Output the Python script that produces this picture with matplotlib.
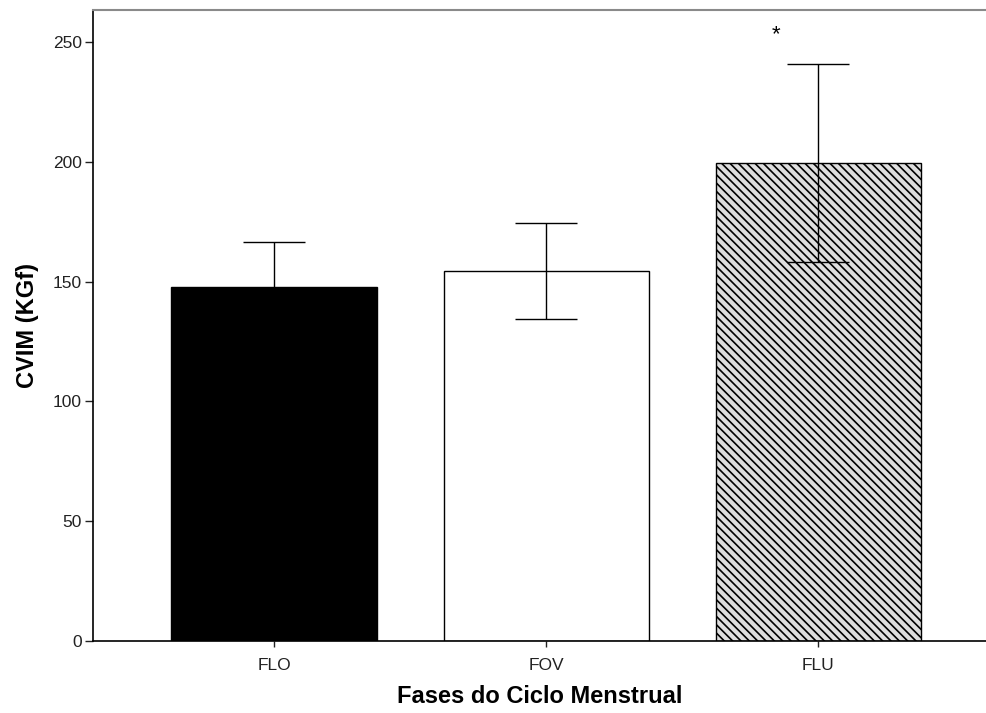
import matplotlib
matplotlib.use("Agg")
import matplotlib.pyplot as plt

plt.rcParams['font.family'] = ['Liberation Sans', 'DejaVu Sans']
plt.rcParams['hatch.linewidth'] = 1.2
plt.rcParams['hatch.color'] = '#444444'

# data
fases = ['FLO', 'FOV', 'FLU']
cvim = [147.8, 154.4, 199.5]
erro = [18.6, 19.9, 41.2]
cores = ['black', 'white', '#dedede']
hachura = [None, None, '\\\\\\\\']
yticks = [0, 50, 100, 150, 200, 250]

fig = plt.figure(figsize=(9.87, 7.13), dpi=100)
ax = fig.add_axes([0.0942, 0.101, 0.9058, 0.885])

x = range(len(fases))
for i in x:
    ax.bar(i, cvim[i], width=0.754, color=cores[i], edgecolor='black',
           linewidth=1.0, hatch=hachura[i], zorder=2)
ax.errorbar(list(x), cvim, yerr=erro, fmt='none', ecolor='black',
            elinewidth=1.0, capsize=22, capthick=1.0, zorder=3)

ax.text(1.845, 253.0, '*', ha='center', va='center', fontsize=16, color='black')

ax.set_xlim(-0.665, 2.62)
ax.set_ylim(0, 263.4)
ax.set_yticks(yticks)
ax.set_xticks(list(x))
ax.set_xticklabels(fases)

ax.spines['right'].set_visible(False)
ax.spines['top'].set_color('#8a8a8a')
ax.spines['top'].set_linewidth(1.5)
ax.spines['left'].set_linewidth(1.2)
ax.spines['bottom'].set_linewidth(1.2)
ax.tick_params(axis='y', direction='out', length=6, width=1, labelsize=12.5,
               colors='#222222', pad=2)
ax.tick_params(axis='x', direction='out', length=4, width=1, labelsize=12.5,
               colors='#222222', pad=8)

ax.set_ylabel('CVIM (KGf)', fontsize=17, fontweight='bold', labelpad=10)
ax.set_xlabel('Fases do Ciclo Menstrual', fontsize=17, fontweight='bold', labelpad=9)

fig.savefig('out.png', dpi=100)
